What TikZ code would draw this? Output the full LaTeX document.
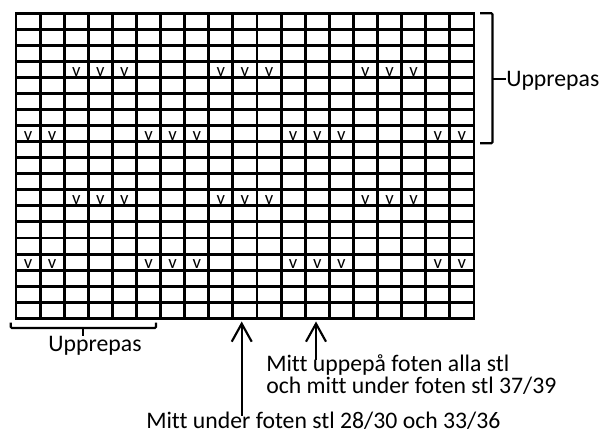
\documentclass[tikz,border=0pt]{standalone}
\usepackage{fontspec}
\setmainfont{Carlito}[Ligatures=NoCommon]
\usetikzlibrary{arrows.meta, positioning}

\begin{document}
\begin{tikzpicture}[
		x=0.75pt, y=-0.75pt,
		>={Straight Barb[length=13.5pt, width=15pt]},
		gridline/.style={line width=2.2pt},
		brace/.style={line width=1.6pt, rounded corners=0.8pt},
		pointer/.style={->, line width=1.6pt},
		stitch/.style={font=\fontsize{14}{14}\selectfont, inner sep=0pt, anchor=base},
		note/.style={font=\fontsize{17.8}{16.4}\selectfont, inner sep=0pt, align=left}
		]
		\useasboundingbox (0,0) rectangle (600,434);
		
		% =========================================================
		% 1. Stitches (v) in the chart
		% =========================================================
		\foreach \r in {4,12} {
			\foreach \c in {3,4,5,9,10,11,15,16,17} {
				\node[stitch] (v-\r-\c) at ({16+(\c-0.5)*24.1}, {13.3+\r*16.05-1.2}) {v};
			}
		}
		\foreach \r in {8,16} {
			\foreach \c in {1,2,6,7,8,12,13,14,18,19} {
				\node[stitch] (v-\r-\c) at ({16+(\c-0.5)*24.1}, {13.3+\r*16.05-1.2}) {v};
			}
		}
		
		% =========================================================
		% 2. The grid: 19 columns, 19 rows
		% =========================================================
		\foreach \i in {1,...,18} {
			\draw[gridline] ({16+\i*24.1}, 13.3) -- ({16+\i*24.1}, 318.3);
			\draw[gridline] (16, {13.3+\i*16.05}) -- (474, {13.3+\i*16.05});
		}
		\draw[gridline] (16,13.3) rectangle (474,318.3);
		
		% =========================================================
		% 3. Repeat brackets
		% =========================================================
		% Right side: rows 1--8
		\draw[brace] (480,13.3) -- (492.5,13.3) -- (492.5,143.3) -- (480,143.3);
		\coordinate (braceR) at (492.5,79);
		\node[note, anchor=base west] (repRight) at (506,86.5) {Upprepas};
		\draw[brace] (braceR) -- (repRight.west |- braceR);
		
		% Bottom: columns 1--6
		\draw[brace] (10.7,322.7) -- (10.7,328) -- (156,328) -- (156,322.7);
		\coordinate (braceB) at (83.3,328);
		\coordinate (braceBend) at (83.3,336.5);
		\draw[brace] (braceB) -- (braceBend);
		\node[note, anchor=base] (repBottom) at (95,352) {Upprepas};
		
		% =========================================================
		% 4. Centre markers
		% =========================================================
		% base of a two-line node is its last line
		\node[note, anchor=base west] (footTop) at (266,393.5) {Mitt uppepå foten alla stl\\och mitt under foten stl 37/39};
		\node[note, anchor=base west] (footUnder) at (146,428.3) {Mitt under foten stl 28/30 och 33/36};
		
		\coordinate (tipA) at (241.7,321.5);
		\coordinate (tailA) at (241.7,416);
		\coordinate (tipB) at (316,321.5);
		\coordinate (tailB) at (316,360);
		\draw[pointer] (tailA) -- (tipA);
		\draw[pointer] (tailB) -- (tipB);
	\end{tikzpicture}
\end{document}
